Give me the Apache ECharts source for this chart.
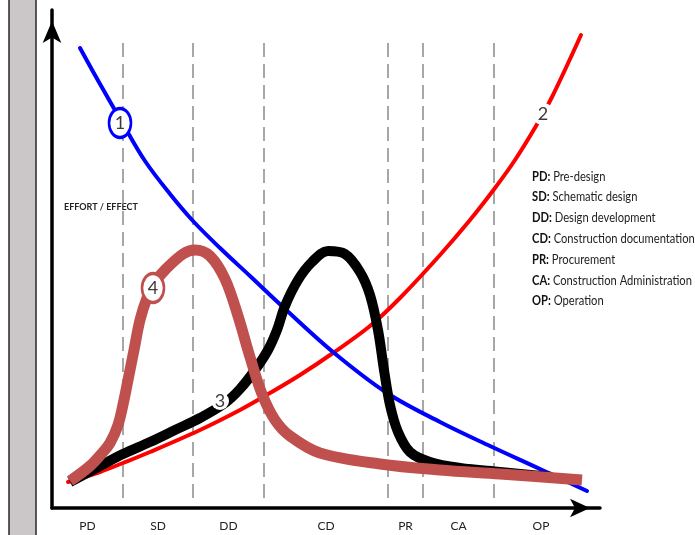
<!DOCTYPE html>
<html>
<head>
<meta charset="utf-8">
<script src="https://cdn.jsdelivr.net/npm/echarts@6/dist/echarts.min.js"></script>
<style>html,body{margin:0;padding:0;background:#fff}#c{width:695px;height:535px}</style>
</head>
<body>
<div id="c"></div>
<script>
// ---- data (x: project time units, y: effort/effect units) ----
const phases = ['PD', 'SD', 'DD', 'CD', 'PR', 'CA', 'OP'];
const phaseBounds = [0, 71, 141, 212, 336, 371, 442, 536];
const dividers = [71, 141, 212, 336, 371, 442];
const dividerSpan = [10, 471];

const curve1 = [[28,460],[48,424],[71,384],[93,347],[118,314],[141,287],[168,260],[198,232],[231,201],[281,156],[335,115],[388,86],[438,62],[488,39],[535,17]];
const curve2 = [[16,26],[48,36],[71,45],[98,56],[148,78],[188,98],[218,115],[248,133],[281,155],[318,182],[348,210],[388,253],[418,288],[443,320],[463,348],[484,382],[500,411],[529,473]];
const curve3 = [[18,26],[48,42],[71,54],[98,66],[123,78],[148,90],[173,105],[188,119],[203,138],[216,158],[225,178],[233,202],[246,228],[260,246],[276,257],[293,254],[308,236],[318,213],[326,178],[332,138],[338,103],[346,76],[358,56],[378,46],[408,40],[448,36],[500,31]];
const curve4 = [[18,27],[38,42],[51,56],[58,65],[66,83],[72,108],[77,133],[82,158],[88,188],[95,210],[103,226],[113,238],[131,254],[143,258],[158,252],[173,229],[186,192],[198,151],[210,114],[223,88],[238,72],[268,55],[328,44],[388,38],[448,34],[530,28]];

const curveNames = ['1', '2', '3', '4'];
const labelAt = [[68,385],[491,394],[168,107],[101,220]];

const legendCodes = ['PD', 'SD', 'DD', 'CD', 'PR', 'CA', 'OP'];
const legendNames = ['Pre-design', 'Schematic design', 'Design development', 'Construction documentation', 'Procurement', 'Construction Administration', 'Operation'];
const yAxisTitle = 'EFFORT / EFFECT';

// ---- chart ----
const FONT = 'Lato, "Liberation Sans", sans-serif';
const centers = phases.map((p, i) => (phaseBounds[i] + phaseBounds[i + 1]) / 2);
const colors = ['#0000ff', '#ff0000', '#000000', '#c0504d'];
const widths = [4, 4, 10, 11];

const chart = echarts.init(document.getElementById('c'), null, {renderer: 'canvas'});

const series = [];
dividers.forEach(d => {
  series.push({
    type: 'line', silent: true, symbol: 'none', z: 1,
    data: [[d, dividerSpan[0]], [d, dividerSpan[1]]],
    lineStyle: {color: '#8a8a8a', width: 1.5, type: [14, 7]}
  });
});
const curves = [curve2, curve1, curve3, curve4];
const order = [1, 0, 2, 3];
curves.forEach((c, k) => {
  const i = order[k];
  series.push({
    type: 'line', silent: true, symbol: 'none', smooth: 0.35, z: 2 + k,
    data: c,
    lineStyle: {color: colors[i], width: widths[i], cap: i >= 2 ? 'butt' : 'round', join: 'round', opacity: 1}
  });
});
// curve number labels
curveNames.forEach((n, i) => {
  const ringed = (i === 0 || i === 3);
  series.push({
    type: 'scatter', silent: true, z: 10,
    symbol: 'circle',
    symbolSize: ringed ? [22, 29] : (i === 2 ? 18 : 22),
    data: [labelAt[i]],
    itemStyle: {color: '#fff', opacity: 1, borderColor: ringed ? colors[i] : '#fff', borderWidth: ringed ? 3 : 0},
    label: {show: true, position: 'inside', formatter: n, fontSize: 18, fontFamily: FONT, color: '#3c3c3c'}
  });
});

const richText = legendCodes.map((c, i) => '{b|' + c + ':}{n| ' + legendNames[i] + '}').join('\n');

chart.setOption({
  animation: false,
  grid: {left: 52, right: 95, top: 10, bottom: 27, outerBoundsMode: 'none'},
  xAxis: {
    type: 'value', min: 0, max: 548,
    splitLine: {show: false},
    axisTick: {show: false},
    axisLine: {show: true, onZero: false, symbol: ['none', 'arrow'], symbolSize: [14, 20], symbolOffset: [0, -10],
      lineStyle: {color: '#000', width: 3.5}},
    axisLabel: {show: true, customValues: centers, margin: 12, fontSize: 12, fontFamily: FONT, color: '#222',
      formatter: v => { const k = centers.findIndex(c => Math.abs(c - v) < 0.01); return k >= 0 ? phases[k] : ''; }}
  },
  yAxis: {
    type: 'value', min: 0, max: 498,
    splitLine: {show: false},
    axisTick: {show: false},
    axisLabel: {show: false},
    axisLine: {show: true, onZero: false, symbol: ['none', 'arrow'], symbolSize: [14, 22], symbolOffset: [0, -11],
      lineStyle: {color: '#000', width: 3.5}}
  },
  graphic: [
    {type: 'rect', x: 9, y: -2, shape: {width: 27, height: 540}, style: {fill: '#cbc7c8', stroke: '#2a2a2a', lineWidth: 1.5}, z: 0},
    {type: 'text', x: 64, y: 202, scaleX: 0.9, z: 0, style: {text: yAxisTitle, font: 'bold 10px ' + FONT, fill: '#222'}},
    {type: 'text', x: 532, y: 166, scaleX: 0.86, z: 20, style: {
      text: richText,
      rich: {
        b: {fontWeight: 'bold', fontSize: 13, fontFamily: FONT, fill: '#111', lineHeight: 20.8},
        n: {fontSize: 13, fontFamily: FONT, fill: '#222', lineHeight: 20.8}
      }
    }}
  ],
  series: series
});
</script>
</body>
</html>
